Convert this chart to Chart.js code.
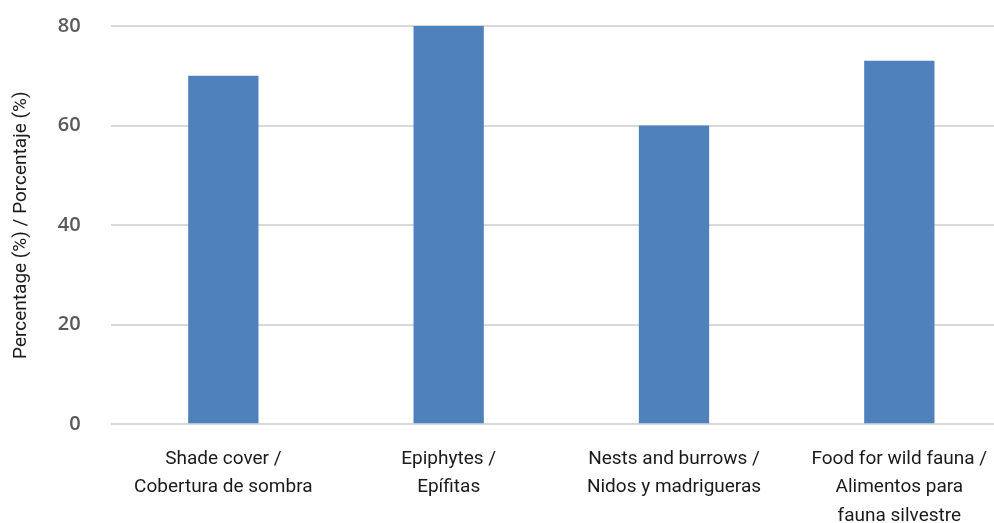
<!DOCTYPE html>
<html>
<head>
<meta charset="utf-8">
<script src="https://cdn.jsdelivr.net/npm/chart.js@4"></script>
<style>
  html, body { margin: 0; padding: 0; background: #fff; overflow: hidden; }
  canvas { display: block; margin-top: -16px; }
</style>
</head>
<body>
<canvas id="grafico" width="1012" height="567"></canvas>
<script>
// dati
const categorie = [
  ['Shade cover /', 'Cobertura de sombra'],
  ['Epiphytes /', 'Epífitas'],
  ['Nests and burrows /', 'Nidos y madrigueras'],
  ['Food for wild fauna /', 'Alimentos para', 'fauna silvestre']
];
const valori = [70, 80, 60, 73];
const titoloY = 'Percentage (%) / Porcentaje (%)';

const ctx = document.getElementById('grafico');
const grafico = new Chart(ctx, {
  type: 'bar',
  data: {
    labels: categorie,
    datasets: [{
      data: valori,
      backgroundColor: '#4f81bd',
      borderWidth: 0,
      barPercentage: 1,
      categoryPercentage: 0.312
    }]
  },
  options: {
    responsive: false,
    animation: false,
    layout: { padding: { top: 0, right: 0, bottom: 0, left: 10 } },
    plugins: {
      legend: { display: false },
      tooltip: { enabled: false }
    },
    scales: {
      x: {
        grid: { display: false, drawTicks: false },
        border: { display: false },
        ticks: {
          color: '#1a1a1a',
          font: { family: '"Roboto", sans-serif', size: 19, lineHeight: 1.52 },
          padding: 20,
          maxRotation: 0,
          autoSkip: false
        }
      },
      y: {
        min: 0,
        max: 80,
        grid: { color: '#d9d9d9', lineWidth: 2, drawTicks: false },
        border: { display: false },
        ticks: {
          stepSize: 20,
          color: '#595959',
          font: { family: '"Open Sans", sans-serif', size: 20, weight: '600' },
          padding: 30
        },
        title: {
          display: true,
          text: titoloY,
          color: '#1a1a1a',
          font: { family: '"Roboto", sans-serif', size: 19 },
          padding: { top: 0, bottom: -5 }
        }
      }
    }
  }
});
</script>
</body>
</html>
